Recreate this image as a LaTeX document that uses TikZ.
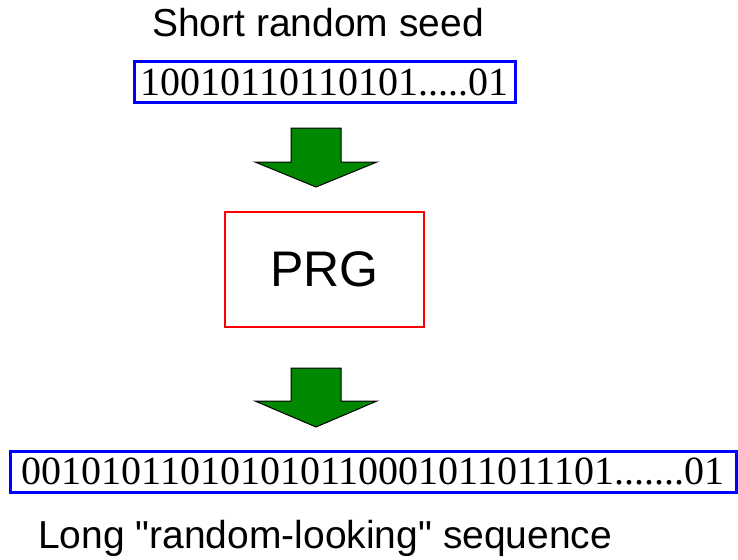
\documentclass[tikz,border=0pt]{standalone}
\usepackage{fontspec}
\setmainfont{Liberation Serif}
\setsansfont{Liberation Sans}
\newfontfamily\plainsans{Liberation Sans}
\usetikzlibrary{positioning}
\definecolor{seedblue}{HTML}{0000FF}
\definecolor{prgred}{HTML}{FF0000}
\definecolor{arrowgreen}{HTML}{008800}

\begin{document}
\begin{tikzpicture}[x=1pt,y=-1pt,
    bitbox/.style={draw=seedblue,line width=3pt,inner sep=0pt,font=\fontsize{40}{40}\selectfont},
    label/.style={font=\plainsans\fontsize{39}{39}\selectfont,inner sep=0pt},
    bigarrow/.style={fill=arrowgreen,draw=black,line width=1pt,line join=miter}]
        \useasboundingbox (0,0) rectangle (738,559);
        \node[label,anchor=base] (title) at (318,37) {Short random seed};
        \node[bitbox,minimum width=381,minimum height=41] (seed) at (324.5,82.5) {10010110110101.....01};
        \node[draw=prgred,line width=1.5pt,minimum width=199,minimum height=115,font=\sffamily\fontsize{50}{50}\selectfont] (prg) at (324.5,269.5) {PRG};
        \node[bitbox,minimum width=726,minimum height=41] (seq) at (373,471.5) {001010110101010110001011011101.......01};
        \node[label,anchor=base west] (caption) at (38,548) {Long "random-looking" sequence};
        % block arrows
        \draw[bigarrow,shift={(316,128)}] (-25,0) -- (25,0) -- (25,34) -- (61,34) -- (0,59) -- (-61,34) -- (-25,34) -- cycle;
        \draw[bigarrow,shift={(316,368)}] (-25,0) -- (25,0) -- (25,33) -- (61,33) -- (0,59) -- (-61,33) -- (-25,33) -- cycle;
      \end{tikzpicture}
\end{document}
